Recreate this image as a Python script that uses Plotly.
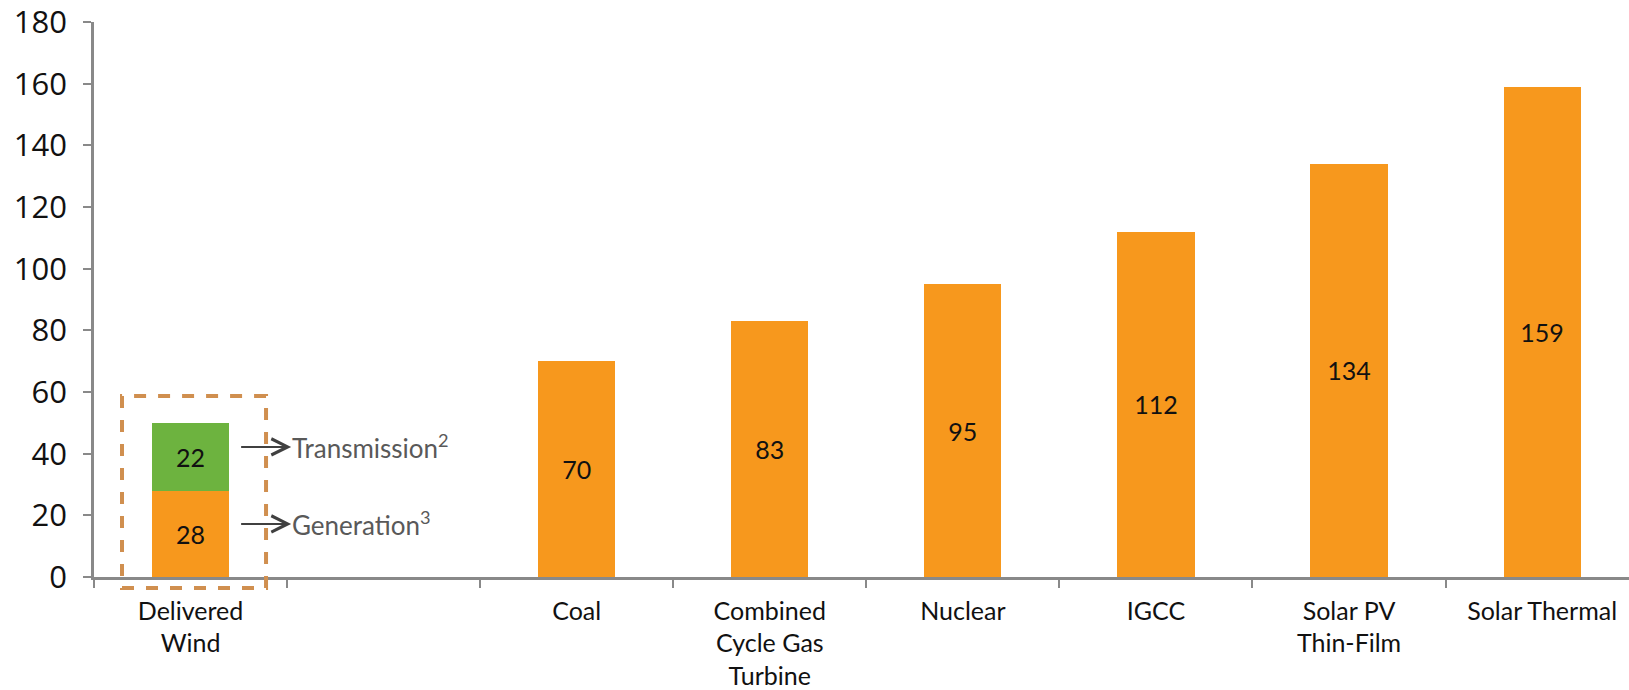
import plotly.graph_objects as go

categories = ["Delivered<br>Wind", "", "Coal", "Combined<br>Cycle Gas<br>Turbine", "Nuclear", "IGCC", "Solar PV<br>Thin-Film", "Solar Thermal"]
generation = [28, None, 70, 83, 95, 112, 134, 159]
transmission = [22, None, None, None, None, None, None, None]
y_ticks = [0, 20, 40, 60, 80, 100, 120, 140, 160, 180]

ORANGE = "#F7981D"
GREEN = "#6DB33F"
LABEL_FONT = "Lato, 'Open Sans', sans-serif"

positions = list(range(len(categories)))
label_pos = [p for p, c in zip(positions, categories) if c]
label_txt = [c for c in categories if c]
boundaries = [p - 0.5 for p in positions] + [positions[-1] + 0.5]

def series(vals):
    xs = [p for p, v in zip(positions, vals) if v is not None]
    ys = [v for v in vals if v is not None]
    return xs, ys

fig = go.Figure()
for vals, color, name in [(generation, ORANGE, "Generation"), (transmission, GREEN, "Transmission")]:
    xs, ys = series(vals)
    fig.add_trace(go.Bar(x=xs, y=ys, name=name, marker=dict(color=color, line=dict(width=0)),
                         width=0.4, texttemplate="%{y}", textposition="inside", insidetextanchor="middle",
                         textangle=0, constraintext="none",
                         textfont=dict(color="#111111", size=25, family=LABEL_FONT)))

# plot area: t=22 .. 577 px ; 555 px for 180 units
def py(pix):
    return (577 - pix) / 555.0

fig.add_shape(type="rect", xref="x", yref="paper", x0=-0.355, x1=0.391, y0=py(588), y1=py(396),
              line=dict(color="#D08F4F", width=4, dash="dash"), fillcolor="rgba(0,0,0,0)", layer="above")

for yv, label in [(42.2, "Transmission<sup>2</sup>"), (17.2, "Generation<sup>3</sup>")]:
    fig.add_annotation(x=0.262, y=yv, xref="x", yref="y", ax=50, ay=0, axref="pixel", ayref="pixel",
                       text=label, showarrow=True, arrowside="start", startarrowhead=5, startarrowsize=1.6,
                       arrowwidth=2, arrowcolor="#404040", xanchor="left", yanchor="middle",
                       borderpad=0, startstandoff=0,
                       font=dict(size=26, color="#595959", family=LABEL_FONT))

fig.update_layout(
    width=1629, height=690, barmode="stack", showlegend=False,
    plot_bgcolor="white", paper_bgcolor="white",
    margin=dict(l=94, r=0, t=22, b=113, autoexpand=False),
)
fig.update_xaxes(range=[-0.5, 7.45], tickvals=label_pos, ticktext=label_txt, ticks="",
                 minor=dict(tickvals=boundaries, ticks="outside", ticklen=8, tickcolor="#898989", tickwidth=2),
                 showline=True, linecolor="#898989", linewidth=2.5, automargin=False,
                 showgrid=False, zeroline=False, ticklabelstandoff=10, ticklabeloverflow="allow",
                 tickfont=dict(size=25, color="#111111", family=LABEL_FONT))
fig.update_yaxes(range=[0, 180], tickvals=y_ticks, showline=True, linecolor="#898989", linewidth=2.5,
                 ticks="outside", ticklen=8, tickcolor="#898989", tickwidth=2, automargin=False,
                 showgrid=False, zeroline=False, ticklabelstandoff=10, ticklabeloverflow="allow",
                 tickfont=dict(size=31, color="#111111", family="'Open Sans', sans-serif"))

fig.write_html("out.html")
